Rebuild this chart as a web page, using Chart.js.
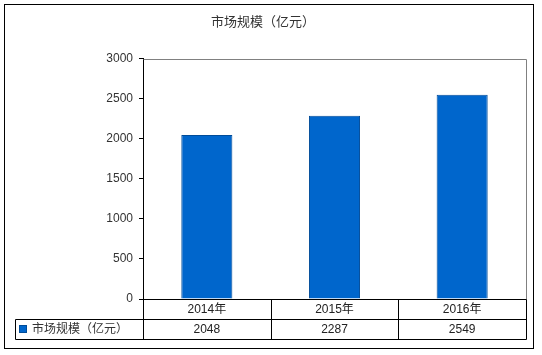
<!DOCTYPE html>
<html>
<head>
<meta charset="utf-8">
<script src="https://cdn.jsdelivr.net/npm/chart.js@4/dist/chart.umd.min.js"></script>
<style>
  html, body { margin: 0; padding: 0; background: #ffffff; }
  #wrap { width: 542px; height: 355px; }
</style>
</head>
<body>
<div id="wrap"><canvas id="c" width="542" height="355"></canvas></div>
<script>
const categories = ['2014年', '2015年', '2016年'];
const seriesName = '市场规模（亿元）';
const values = [2048, 2287, 2549];
const yTicks = [0, 500, 1000, 1500, 2000, 2500, 3000];

const FONT = '"Liberation Sans", "Noto Sans CJK SC", Arial, sans-serif';
const BAR_FILL = '#0066CC';
const BAR_EDGE = '#004C99';

const tablePlugin = {
  id: 'dataTable',
  afterDraw(chart) {
    const ctx = chart.ctx;
    const area = chart.chartArea;
    const x = chart.scales.x;
    const n = categories.length;
    const rowH = 20;
    const top = area.bottom;
    const legendLeft = 15;
    const bounds = [];
    for (let i = 0; i <= n; i++) {
      bounds.push(area.left + (area.right - area.left) * i / n);
    }
    ctx.save();
    // plot frame: top and right in grey
    ctx.strokeStyle = '#808080';
    ctx.lineWidth = 1;
    ctx.beginPath();
    ctx.moveTo(Math.round(area.left) + 0.5, Math.round(area.top) + 0.5);
    ctx.lineTo(Math.round(area.right) + 0.5, Math.round(area.top) + 0.5);
    ctx.lineTo(Math.round(area.right) + 0.5, Math.round(top) + 0.5);
    ctx.stroke();

    // table lines
    ctx.strokeStyle = '#000000';
    ctx.beginPath();
    const y0 = Math.round(top) + 0.5;
    const y1 = Math.round(top + rowH) + 0.5;
    const y2 = Math.round(top + 2 * rowH) + 0.5;
    ctx.moveTo(Math.round(area.left) + 0.5, y0);
    ctx.lineTo(Math.round(area.right) + 0.5, y0);
    ctx.moveTo(legendLeft + 0.5, y1);
    ctx.lineTo(Math.round(area.right) + 0.5, y1);
    ctx.moveTo(legendLeft + 0.5, y2);
    ctx.lineTo(Math.round(area.right) + 0.5, y2);
    ctx.moveTo(legendLeft + 0.5, y1);
    ctx.lineTo(legendLeft + 0.5, y2);
    bounds.forEach(b => {
      ctx.moveTo(Math.round(b) + 0.5, y0);
      ctx.lineTo(Math.round(b) + 0.5, y2);
    });
    ctx.stroke();

    // texts
    ctx.fillStyle = '#222222';
    ctx.font = '12px ' + FONT;
    ctx.textAlign = 'center';
    ctx.textBaseline = 'middle';
    categories.forEach((c, i) => {
      const cx = x.getPixelForValue(i);
      ctx.fillText(c, cx, top + rowH / 2 + 1);
      ctx.fillText(String(values[i]), cx, top + rowH * 1.5 + 1);
    });
    // legend key
    ctx.fillStyle = BAR_FILL;
    ctx.fillRect(19, Math.round(top + rowH + 6), 8, 8);
    ctx.strokeStyle = BAR_EDGE;
    ctx.strokeRect(19.5, Math.round(top + rowH + 6) + 0.5, 7, 7);
    ctx.fillStyle = '#333333';
    ctx.textAlign = 'left';
    ctx.fillText(seriesName, 32, top + rowH * 1.5 + 1);

    // outer border
    ctx.strokeStyle = '#000000';
    ctx.strokeRect(4.5, 4.5, 529, 344);
    ctx.restore();
  }
};

new Chart(document.getElementById('c'), {
  type: 'bar',
  data: {
    labels: categories,
    datasets: [{
      label: seriesName,
      data: values,
      backgroundColor: BAR_FILL,
      borderColor: BAR_EDGE,
      borderWidth: 1,
      barPercentage: 0.4,
      categoryPercentage: 1.0
    }]
  },
  options: {
    responsive: false,
    animation: false,
    devicePixelRatio: 1,
    layout: { padding: { left: 0, right: 16, top: 0, bottom: 56 } },
    plugins: {
      legend: { display: false },
      tooltip: { enabled: false },
      title: {
        display: true,
        text: seriesName,
        color: '#333333',
        font: { size: 13, family: FONT, weight: 'normal', lineHeight: 1.2 },
        padding: { top: 15, bottom: 28 }
      }
    },
    scales: {
      x: { display: false },
      y: {
        min: 0,
        max: 3000,
        afterBuildTicks(scale) { scale.ticks = yTicks.map(v => ({ value: v })); },
        afterFit(scale) { scale.width = 143; },
        border: { display: true, color: '#000000', width: 1 },
        grid: { drawOnChartArea: false, drawTicks: true, tickLength: 4, color: '#000000' },
        ticks: {
          color: '#333333',
          font: { size: 12, family: FONT },
          padding: 6,
          callback: (v) => String(v)
        }
      }
    }
  },
  plugins: [tablePlugin]
});
</script>
</body>
</html>
